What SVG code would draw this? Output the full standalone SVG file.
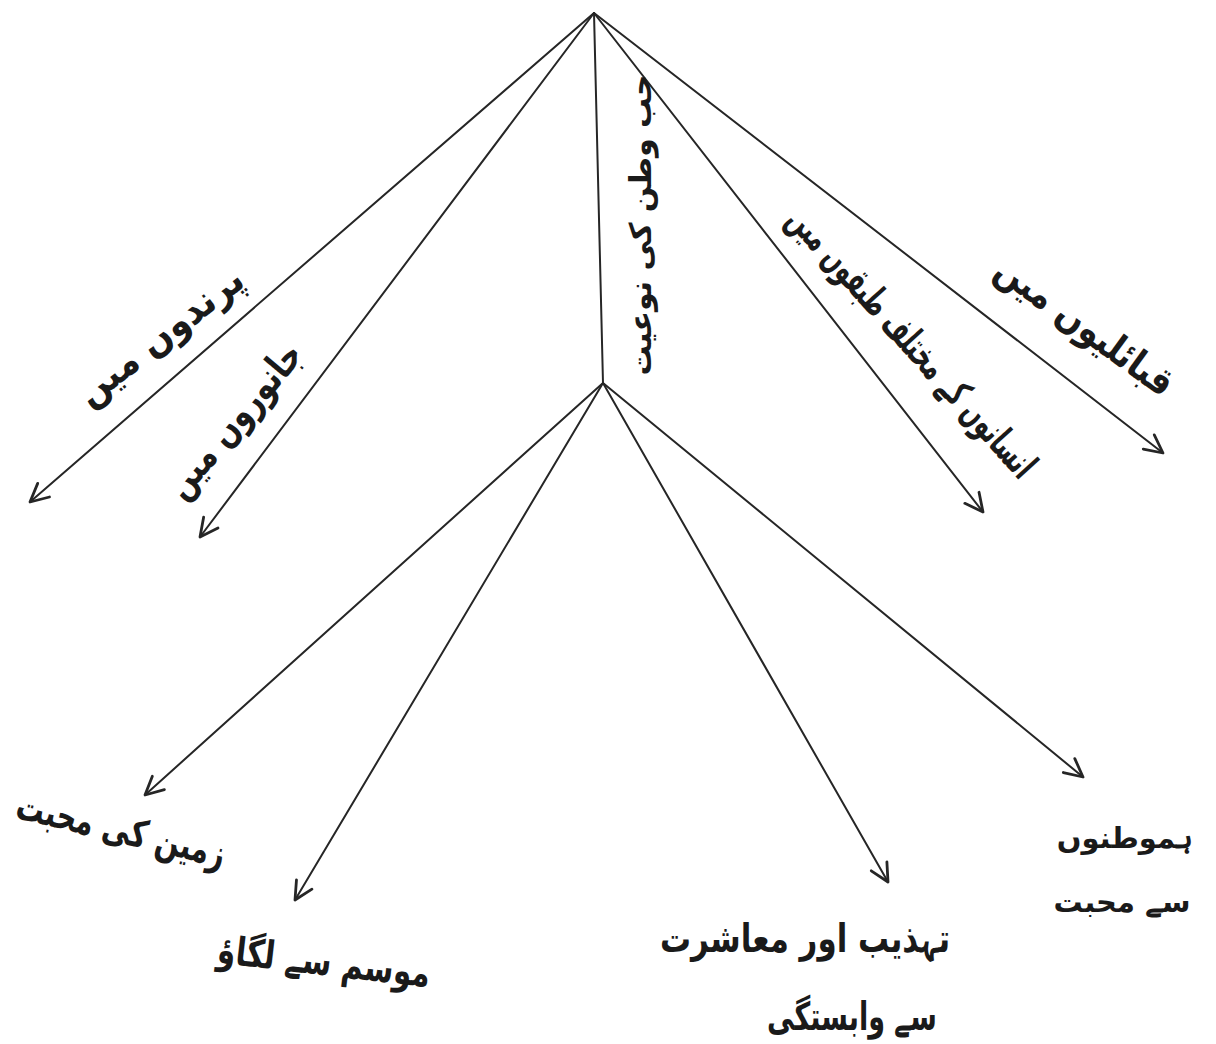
<svg xmlns="http://www.w3.org/2000/svg" width="1216" height="1044" viewBox="0 0 1216 1044">
<style>
.c{stroke:#262626;stroke-width:2;fill:none;stroke-linecap:round}
.t{font-family:"DejaVu Sans","Noto Sans",sans-serif;font-size:39px;fill:#1a1a1a;text-anchor:middle;font-weight:bold}
.r{font-size:30px}
.s{font-size:29px}
</style>
<defs>
<marker id="ah" viewBox="-22 -12 24 24" refX="0" refY="0" markerWidth="24" markerHeight="24" markerUnits="userSpaceOnUse" orient="auto">
<path d="M-18,-9 L0,0 L-18,9" fill="none" stroke="#262626" stroke-width="2.8" stroke-linejoin="round" stroke-linecap="round"/>
</marker>
</defs>
<rect width="1216" height="1044" fill="#ffffff"/>
<g id="connectors">
<line class="c" x1="594" y1="13" x2="30" y2="502" marker-end="url(#ah)"/>
<line class="c" x1="594" y1="13" x2="200" y2="537" marker-end="url(#ah)"/>
<line class="c" x1="594" y1="13" x2="603" y2="383"/>
<line class="c" x1="594" y1="13" x2="983" y2="512" marker-end="url(#ah)"/>
<line class="c" x1="594" y1="13" x2="1163" y2="453" marker-end="url(#ah)"/>
<line class="c" x1="603" y1="383" x2="145" y2="795" marker-end="url(#ah)"/>
<line class="c" x1="603" y1="383" x2="295" y2="900" marker-end="url(#ah)"/>
<line class="c" x1="603" y1="383" x2="888" y2="882" marker-end="url(#ah)"/>
<line class="c" x1="603" y1="383" x2="1083" y2="777" marker-end="url(#ah)"/>
</g>
<g id="node-root" transform="translate(640,225) rotate(-90)">
<text class="t r" x="0" y="11">حب وطن کی نوعیت</text>
</g>
<g id="node-birds" transform="translate(160,336) rotate(-38)">
<text class="t" x="0" y="13" textLength="200" lengthAdjust="spacingAndGlyphs">پرندوں میں</text>
</g>
<g id="node-animals" transform="translate(234,420) rotate(-50)">
<text class="t" x="0" y="13" textLength="190" lengthAdjust="spacingAndGlyphs">جانوروں میں</text>
</g>
<g id="node-humans" transform="translate(912,342) rotate(48)">
<text class="t" x="0" y="13" textLength="350" lengthAdjust="spacingAndGlyphs">انسانوں کے مختلف طبقوں میں</text>
</g>
<g id="node-tribes" transform="translate(1085,326) rotate(36)">
<text class="t" x="0" y="13" textLength="210" lengthAdjust="spacingAndGlyphs">قبائلیوں میں</text>
</g>
<g id="node-land" transform="translate(121,830) rotate(13.5)">
<text class="t" x="0" y="13" textLength="214" lengthAdjust="spacingAndGlyphs">زمین کی محبت</text>
</g>
<g id="node-weather" transform="translate(324,962) rotate(6.6)">
<text class="t" x="0" y="13" textLength="214" lengthAdjust="spacingAndGlyphs">موسم سے لگاؤ</text>
</g>
<g id="node-culture">
<text class="t" x="805" y="952" textLength="290" lengthAdjust="spacingAndGlyphs">تہذیب اور معاشرت</text>
<text class="t" x="852" y="1030" textLength="170" lengthAdjust="spacingAndGlyphs">سے وابستگی</text>
</g>
<g id="node-compatriots">
<text class="t s" x="1125" y="848">ہموطنوں</text>
<text class="t s" x="1122" y="912">سے محبت</text>
</g>
</svg>
